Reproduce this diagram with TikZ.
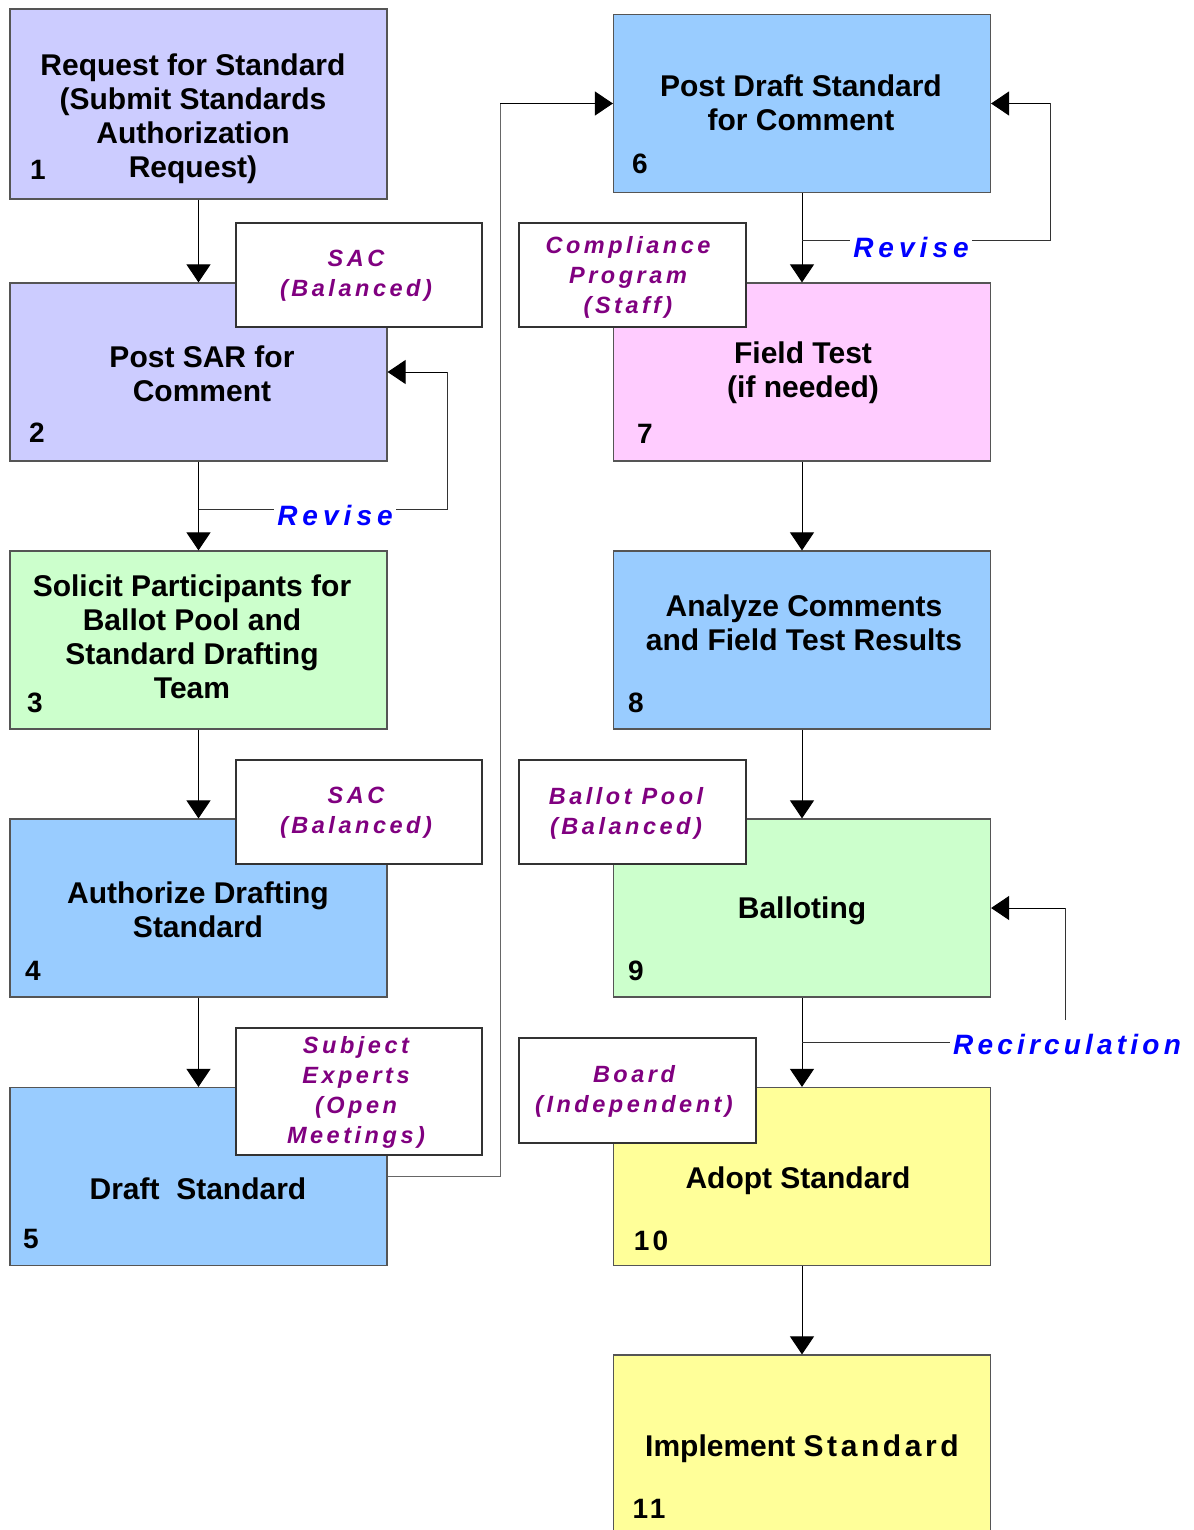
\documentclass[tikz,border=0pt]{standalone}
\usepackage{fontspec}
\setmainfont{Liberation Sans}
\newfontfamily\annfont[LetterSpace=15]{Liberation Sans}
\newfontfamily\revfont[LetterSpace=18]{Liberation Sans}
\newfontfamily\recfont[LetterSpace=15]{Liberation Sans}
\usetikzlibrary{arrows.meta}
\definecolor{lav}{HTML}{CCCCFF}
\definecolor{lblue}{HTML}{99CCFF}
\definecolor{lgreen}{HTML}{CCFFCC}
\definecolor{lpink}{HTML}{FFCCFF}
\definecolor{lyellow}{HTML}{FFFF99}
\definecolor{purp}{HTML}{800080}
\definecolor{revblue}{HTML}{0000FF}
\definecolor{bordercol}{HTML}{555555}
\definecolor{annborder}{HTML}{333333}
\definecolor{linkgray}{HTML}{666666}
\begin{document}
\begin{tikzpicture}[x=1pt,y=-1pt,
 mainbox/.style={draw=bordercol,line width=1.2pt,minimum width=377pt,minimum height=178pt,inner sep=0pt},
 annbox/.style={draw=annborder,fill=white,line width=1.2pt,inner sep=0pt,minimum height=104pt},
 anntxt/.style={inner sep=0pt,font=\annfont\bfseries\itshape\fontsize{23.5}{30}\selectfont,text=purp,align=center},
 txt/.style={font=\bfseries\fontsize{30}{34}\selectfont,align=center,inner sep=0pt},
 num/.style={font=\bfseries\fontsize{28}{32}\selectfont,inner sep=0pt},
 arr/.style={line width=1pt,draw=black,-{Triangle[width=24pt,length=18pt]}},
 lnk/.style={line width=1pt,draw=annborder},
 rev/.style={font=\revfont\bfseries\itshape\fontsize{28}{32}\selectfont,text=revblue,fill=white,inner sep=3pt}]
\useasboundingbox (0,0) rectangle (1193,1530);

% main boxes, left column
\node[mainbox,fill=lav,minimum height=190pt] (b1) at (198.5,104) {};
\node[mainbox,fill=lav] (b2) at (198.5,372) {};
\node[mainbox,fill=lgreen] (b3) at (198.5,640) {};
\node[mainbox,fill=lblue] (b4) at (198.5,908) {};
\node[mainbox,fill=lblue] (b5) at (198.5,1176.5) {};
% right column
\node[mainbox,fill=lblue] (b6) at (802,103.5) {};
\node[mainbox,fill=lpink] (b7) at (802,372) {};
\node[mainbox,fill=lblue] (b8) at (802,640) {};
\node[mainbox,fill=lgreen] (b9) at (802,908) {};
\node[mainbox,fill=lyellow] (b10) at (802,1176.5) {};
\node[mainbox,fill=lyellow,minimum height=190pt] (b11) at (802,1450) {};

% texts
\node[txt] (t1) at (193,119) {Request for Standard\\(Submit Standards\\Authorization\\Request)};
\node[txt] (t2) at (202,374) {Post SAR for\\Comment};
\node[txt] (t3) at (192,637) {Solicit Participants for\\Ballot Pool and\\Standard Drafting\\Team};
\node[txt] (t4) at (198,910) {Authorize Drafting\\Standard};
\node[txt] (t5) at (198,1189) {Draft\ \ Standard};
\node[txt] (t6) at (801,103) {Post Draft Standard\\for Comment};
\node[txt] (t7) at (803,373) {Field Test\\(if needed)};
\node[txt] (t8) at (804,623) {Analyze Comments\\and Field Test Results};
\node[txt] (t9) at (802,911) {Balloting};
\node[txt] (t10) at (798,1181) {Adopt Standard};
\node[txt] (t11) at (802,1449) {Implement {\addfontfeature{LetterSpace=12}Standard}};

% numbers
\node[num] (n1) at (38,170) {1};
\node[num] (n2) at (37,433) {2};
\node[num] (n3) at (35,703) {3};
\node[num] (n4) at (33,971) {4};
\node[num] (n5) at (31,1239) {5};
\node[num] (n6) at (640,164) {6};
\node[num] (n7) at (645,434) {7};
\node[num] (n8) at (636,703) {8};
\node[num] (n9) at (636,971) {9};
\node[num] (n10) at (651,1241) {{\addfontfeature{LetterSpace=12}10}};
\node[num] (n11) at (649,1509) {{\addfontfeature{LetterSpace=12}11}};

% annotation boxes
\node[annbox,minimum width=246pt] (a1) at (359,275) {};
\node[annbox,minimum width=227pt] (a2) at (632.5,275) {};
\node[annbox,minimum width=246pt] (a3) at (359,812) {};
\node[annbox,minimum width=227pt] (a4) at (632.5,812) {};
\node[annbox,minimum width=246pt,minimum height=127pt] (a5) at (359,1091.5) {};
\node[annbox,minimum width=237pt,minimum height=105pt] (a6) at (637.5,1090.5) {};
\node[anntxt] (at1) at (356,276) {SAC\\(Balanced)};
\node[anntxt] (at2) at (628,277) {Compliance\\Program\\(Staff)};
\node[anntxt] (at3) at (356,813) {SAC\\(Balanced)};
\node[anntxt] (at4) at (626,813) {Ballot Pool\\(Balanced)};
\node[anntxt] (at5) at (356,1092) {Subject\\Experts\\(Open\\Meetings)};
\node[anntxt] (at6) at (634,1091) {Board\\(Independent)};

% straight arrows
\draw[arr] (b1) -- (b2);
\draw[arr] (b2) -- (b3);
\draw[arr] (b3) -- (b4);
\draw[arr] (b4) -- (b5);
\draw[arr] (b6) -- (b7);
\draw[arr] (b7) -- (b8);
\draw[arr] (b8) -- (b9);
\draw[arr] (b9) -- (b10);
\draw[arr] (b10) -- (b11);

% link 5 -> 6
\coordinate (c5) at (500,1176.5);
\coordinate (c6) at (500,103.5);
\draw[line width=1pt,draw=linkgray] (b5.east) -- (c5) -- (c6);
\draw[arr] (c6) -- (b6.west);

% revise loop 1
\coordinate (j1) at (198.5,509);
\coordinate (k1) at (447,509);
\draw[lnk] (j1) -- (k1) -- (k1 |- b2.east);
\draw[arr] (k1 |- b2.east) -- (b2.east);
\node[rev] (r1) at (335,515) {Revise};

% revise loop 2
\coordinate (j2) at (802,241);
\coordinate (k2) at (1050,241);
\draw[lnk] (j2) -- (k2) -- (k2 |- b6.east);
\draw[arr] (k2 |- b6.east) -- (b6.east);
\node[rev] (r2) at (911,247) {Revise};

% recirculation
\coordinate (j3) at (802,1042);
\node[rev,fill=none,font=\recfont\bfseries\itshape\fontsize{28}{32}\selectfont] (r3) at (1067,1044) {Recirculation};
\coordinate (rc) at (1065,1020);
\draw[lnk] (j3) -- (r3.west |- j3);
\draw[lnk] (rc) -- (rc |- b9.east);
\draw[arr] (rc |- b9.east) -- (b9.east);
\end{tikzpicture}
\end{document}
